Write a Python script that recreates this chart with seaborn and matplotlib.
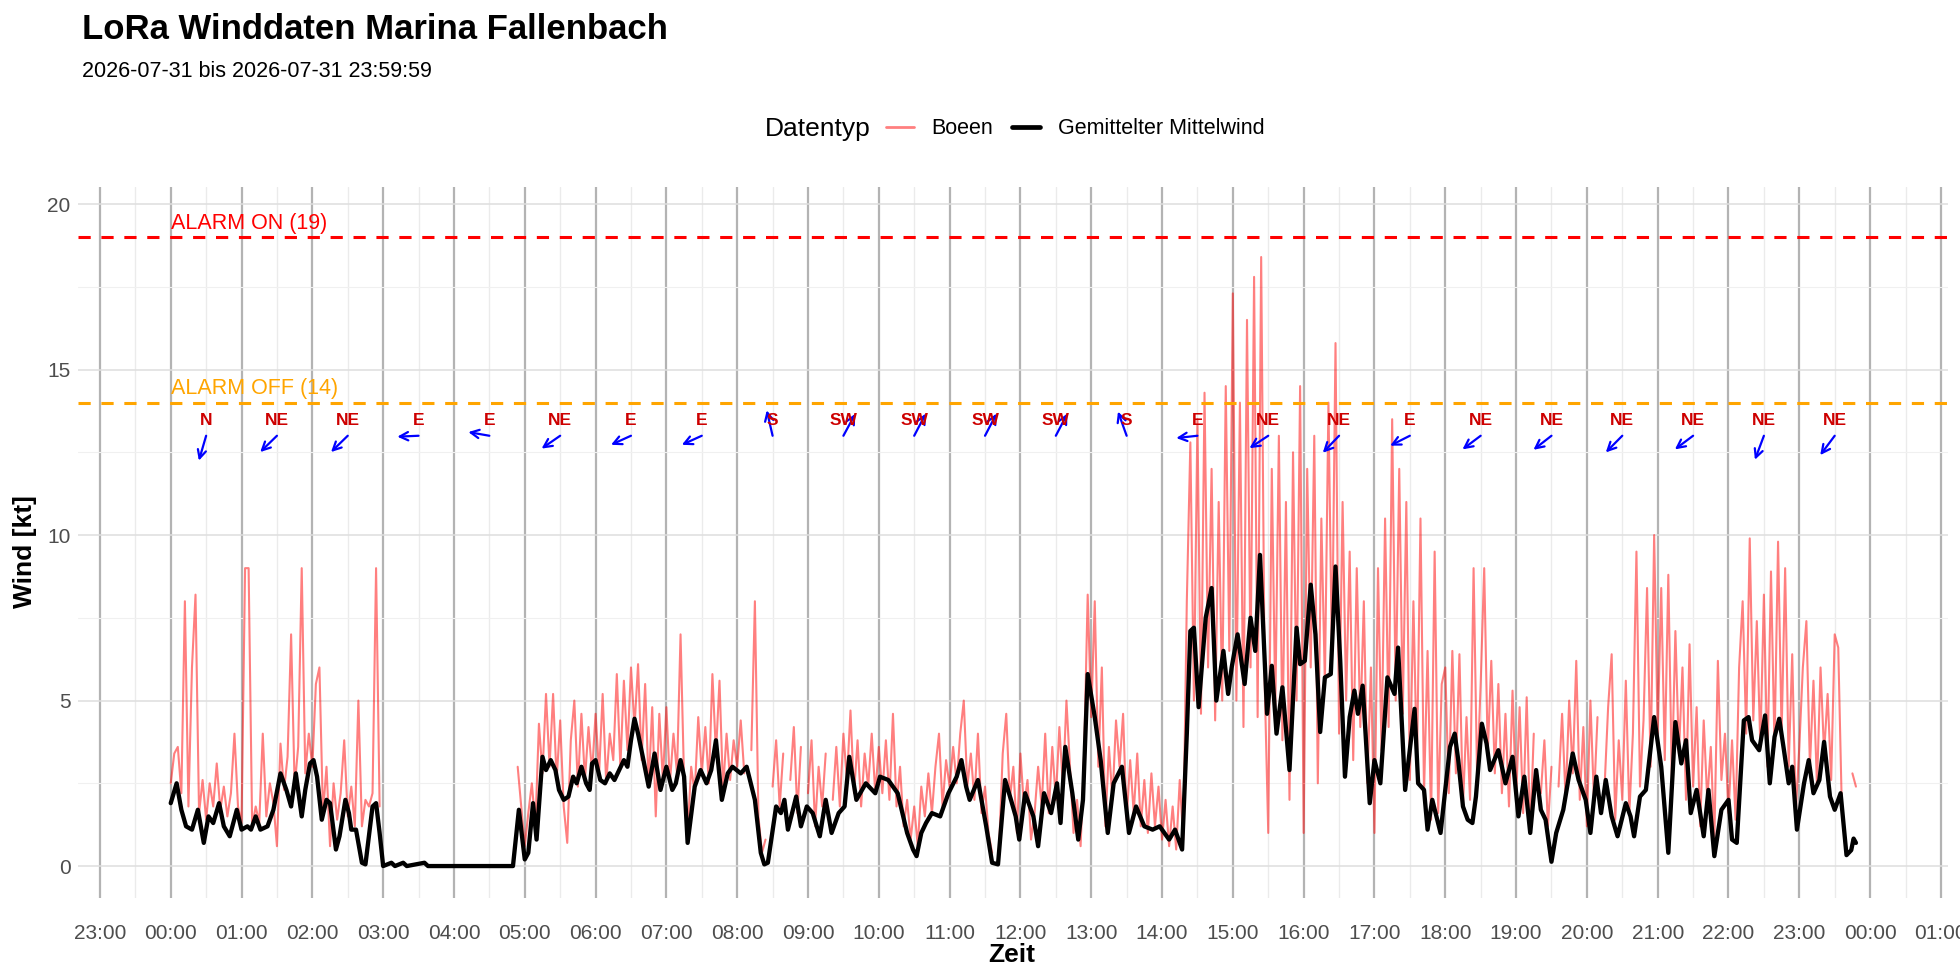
import numpy as np
import pandas as pd
import matplotlib
matplotlib.use("Agg")
import matplotlib.pyplot as plt
import matplotlib.dates as mdates
from matplotlib.lines import Line2D
import seaborn as sns

nan = np.nan
DAY = "2026-07-31"

# Boeen [kt], 3-Minuten-Raster ab 00:00, eine Zeile pro Stunde
gust_kt = [
    2.5, 3.4, 3.6, 2.2, 8.0, 1.8, 6.0, 8.2, 1.6, 2.6, 1.4, 2.5, 1.8, 3.1, 1.7, 2.4, 1.5, 2.2, 4.0, 1.8,
    1.3, 9.0, 9.0, 1.2, 1.8, 1.3, 4.0, 1.5, 2.5, 1.9, 0.6, 3.7, 2.3, 3.3, 7.0, 2.4, 3.6, 9.0, 2.8, 4.0,
    3.0, 5.5, 6.0, 1.6, 3.0, 0.6, 2.5, 1.4, 2.2, 3.8, 1.5, 2.4, 1.2, 5.0, 1.2, 2.0, 1.8, 2.2, 9.0, 1.8,
    nan, nan, nan, nan, nan, nan, nan, nan, nan, nan, nan, nan, nan, nan, nan, nan, nan, nan, nan, nan,
    nan, nan, nan, nan, nan, nan, nan, nan, nan, nan, nan, nan, nan, nan, nan, nan, nan, nan, 3.0, 1.8,
    0.6, 1.6, 2.5, 1.2, 4.3, 2.8, 5.2, 3.0, 5.2, 2.6, 4.4, 1.8, 0.7, 3.8, 5.0, 2.4, 4.6, 2.6, 4.2, 2.8,
    4.6, 2.8, 5.2, 2.5, 4.0, 3.2, 5.8, 3.0, 5.6, 3.5, 6.0, 4.2, 6.1, 3.2, 5.5, 2.4, 4.8, 1.5, 4.6, 2.6,
    4.8, 2.5, 4.0, 2.8, 7.0, 2.6, 1.0, 3.0, 2.2, 4.5, 2.8, 4.2, 2.5, 5.8, 3.4, 5.6, 2.3, 4.0, 2.6, 3.8,
    3.0, 4.4, 2.8, nan, 3.5, 8.0, 1.5, 0.4, 0.8, nan, 2.4, 3.8, 1.8, 3.4, nan, 2.6, 4.2, 1.6, 3.6, nan,
    2.2, 3.8, 1.2, 3.0, 1.8, 3.4, nan, 2.0, 3.6, 1.8, 4.0, 2.6, 4.7, 2.2, 3.8, 1.8, 3.4, 2.4, 4.0, 2.2,
    3.6, 2.2, 3.8, 2.0, 4.6, 1.8, 3.0, 1.2, 2.0, 0.8, 1.8, 0.6, 2.4, 1.5, 2.8, 1.6, 3.0, 4.0, 1.8, 3.2,
    2.4, 3.6, 2.5, 4.0, 5.0, 2.4, 3.4, 2.0, 4.0, 1.6, 2.4, 1.0, 0.4, nan, 0.6, 3.4, 4.6, 2.0, 3.0, 1.0,
    3.4, 1.8, 2.6, 0.8, 1.6, 3.0, 1.8, 4.0, 1.6, 3.6, 2.0, 4.2, 2.4, 5.0, 3.0, 1.0, 2.0, 0.6, 3.4, 8.2,
    4.5, 8.0, 3.0, 6.0, 1.2, 3.6, 2.0, 4.4, 3.0, 4.6, 1.4, 3.2, 1.6, 3.4, 1.2, 2.6, 1.0, 2.8, 1.2, 2.4,
    0.8, 2.0, 0.6, 1.8, 0.5, 2.6, 0.8, 8.0, 12.8, 5.0, 13.5, 4.6, 14.3, 6.0, 12.0, 4.4, 11.0, 5.0, 14.5, 6.5,
    17.3, 5.0, 14.0, 4.2, 16.5, 6.0, 17.8, 4.5, 18.4, 5.5, 1.0, 12.0, 4.8, 13.0, 3.8, 11.0, 2.0, 12.5, 5.0, 14.5,
    1.0, 12.0, 6.0, 13.0, 2.5, 10.5, 5.5, 14.0, 6.2, 15.8, 4.0, 11.0, 5.0, 9.5, 3.2, 9.0, 4.2, 8.0, 2.5, 6.0,
    1.0, 9.0, 3.5, 10.5, 4.2, 13.5, 5.0, 12.0, 4.6, 11.0, 2.6, 8.0, 3.0, 10.5, 2.2, 6.5, 1.4, 9.5, 1.6, 5.5,
    6.0, 2.2, 6.5, 2.8, 6.4, 1.8, 4.5, 2.0, 9.0, 2.6, 5.5, 9.0, 3.4, 6.2, 2.8, 5.5, 2.2, 4.6, 1.8, 5.3,
    2.0, 4.8, 1.6, 5.1, 1.0, 4.0, nan, 2.2, 3.8, 1.2, 3.0, nan, 2.4, 4.6, 2.0, 5.0, 2.8, 6.2, 2.0, 4.2,
    1.2, 5.0, 2.0, 4.5, nan, 2.4, 4.8, 6.4, 1.4, 3.8, 2.0, 5.6, 1.6, 4.0, 9.5, 2.4, 4.4, 8.4, 3.0, 10.0,
    4.0, 8.4, 3.2, 8.8, 2.6, 7.1, 3.4, 6.0, 2.0, 6.7, 2.4, 4.8, 1.2, 4.4, 2.0, 3.6, 0.8, 6.2, 2.6, 4.0,
    1.6, 3.8, 1.4, 6.0, 8.0, 4.0, 9.9, 4.4, 7.4, 3.6, 8.2, 3.0, 8.9, 3.6, 9.8, 4.0, 9.0, 3.0, 6.4, 1.6,
    3.6, 6.0, 7.4, 3.0, 5.6, 2.4, 6.0, 3.4, 5.2, 2.6, 7.0, 6.6, 1.8, nan, nan, 2.8, 2.4, nan, nan, nan,
]

# gemittelter Mittelwind [kt]
mean_time = [
    "00:00", "00:05", "00:09", "00:13", "00:18", "00:23", "00:28", "00:32", "00:36", "00:41", "00:45", "00:50", "00:56",
    "01:00", "01:05", "01:08", "01:12", "01:16", "01:22", "01:27", "01:33", "01:38", "01:42", "01:46", "01:51", "01:54", "01:58",
    "02:01", "02:04", "02:08", "02:12", "02:15", "02:20", "02:23", "02:28", "02:31", "02:33", "02:37", "02:42", "02:45", "02:51", "02:54", "02:57",
    "03:00", "03:07", "03:10", "03:17", "03:20", "03:35", "03:38", "04:50", "04:55",
    "05:00", "05:03", "05:07", "05:10", "05:15", "05:18", "05:22", "05:26", "05:29", "05:33", "05:37", "05:41", "05:44", "05:48", "05:52", "05:55", "05:57",
    "06:00", "06:04", "06:08", "06:12", "06:16", "06:20", "06:24", "06:27", "06:30", "06:33", "06:36", "06:40", "06:45", "06:50", "06:55",
    "07:00", "07:05", "07:08", "07:12", "07:15", "07:18", "07:24", "07:29", "07:34", "07:38", "07:42", "07:47", "07:52", "07:56",
    "08:03", "08:08", "08:15", "08:20", "08:23", "08:26", "08:33", "08:37", "08:40", "08:43", "08:50", "08:54", "08:59",
    "09:04", "09:10", "09:15", "09:20", "09:26", "09:31", "09:35", "09:41", "09:49", "09:57",
    "10:01", "10:08", "10:16", "10:24", "10:29", "10:32", "10:36", "10:40", "10:45", "10:52", "10:59",
    "11:06", "11:10", "11:14", "11:17", "11:24", "11:31", "11:36", "11:41", "11:47", "11:52", "11:56", "11:59",
    "12:04", "12:11", "12:15", "12:20", "12:26", "12:31", "12:34", "12:38", "12:44", "12:49", "12:53", "12:57",
    "13:03", "13:08", "13:14", "13:19", "13:26", "13:32", "13:38", "13:45", "13:52", "13:58",
    "14:06", "14:11", "14:17", "14:21", "14:24", "14:27", "14:31", "14:37", "14:42", "14:46", "14:52", "14:56", "14:59",
    "15:04", "15:10", "15:15", "15:19", "15:23", "15:29", "15:33", "15:37", "15:42", "15:48", "15:54", "15:57",
    "16:01", "16:06", "16:10", "16:14", "16:18", "16:23", "16:27", "16:31", "16:35", "16:39", "16:43", "16:46", "16:50", "16:56",
    "17:00", "17:05", "17:11", "17:17", "17:20", "17:26", "17:34", "17:37", "17:42", "17:45", "17:49", "17:56",
    "18:04", "18:08", "18:11", "18:15", "18:19", "18:23", "18:26", "18:31", "18:35", "18:38", "18:45", "18:51", "18:57",
    "19:02", "19:07", "19:12", "19:17", "19:21", "19:25", "19:30", "19:34", "19:40", "19:48", "19:53", "19:59",
    "20:03", "20:08", "20:12", "20:16", "20:21", "20:26", "20:33", "20:37", "20:40", "20:45", "20:50", "20:57",
    "21:03", "21:09", "21:15", "21:20", "21:24", "21:28", "21:33", "21:39", "21:43", "21:48", "21:54",
    "22:00", "22:03", "22:07", "22:13", "22:17", "22:20", "22:26", "22:31", "22:35", "22:39", "22:43", "22:47", "22:51", "22:54", "22:58",
    "23:04", "23:08", "23:12", "23:17", "23:21", "23:26", "23:30", "23:35", "23:40", "23:44", "23:46", "23:48",
]
mean_kt = [
    1.9, 2.5, 1.7, 1.2, 1.1, 1.7, 0.7, 1.5, 1.3, 1.9, 1.2, 0.9, 1.7,
    1.1, 1.2, 1.1, 1.5, 1.1, 1.2, 1.7, 2.8, 2.3, 1.8, 2.8, 1.5, 2.3, 3.1,
    3.2, 2.7, 1.4, 2.0, 1.9, 0.5, 0.9, 2.0, 1.6, 1.1, 1.1, 0.1, 0.05, 1.8, 1.9, 1.0,
    0.0, 0.1, 0.0, 0.1, 0.0, 0.1, 0.0, 0.0, 1.7,
    0.2, 0.4, 1.9, 0.8, 3.3, 2.9, 3.2, 2.9, 2.3, 2.0, 2.1, 2.7, 2.5, 3.0, 2.5, 2.3, 3.1,
    3.2, 2.6, 2.5, 2.8, 2.6, 2.9, 3.2, 3.0, 3.8, 4.45, 4.0, 3.3, 2.4, 3.4, 2.3,
    3.0, 2.3, 2.5, 3.2, 2.7, 0.7, 2.4, 2.9, 2.5, 2.9, 3.8, 2.0, 2.8, 3.0,
    2.8, 3.0, 2.0, 0.4, 0.05, 0.1, 1.8, 1.6, 2.0, 1.1, 2.1, 1.2, 1.8,
    1.6, 0.9, 2.0, 1.0, 1.6, 1.8, 3.3, 2.0, 2.5, 2.2,
    2.7, 2.6, 2.2, 1.0, 0.5, 0.3, 1.0, 1.3, 1.6, 1.5, 2.2,
    2.7, 3.2, 2.4, 2.0, 2.6, 1.2, 0.1, 0.05, 2.6, 2.0, 1.5, 0.8,
    2.2, 1.5, 0.6, 2.2, 1.6, 2.5, 1.3, 3.6, 2.2, 0.8, 2.0, 5.8,
    4.5, 3.2, 1.0, 2.5, 3.0, 1.0, 1.8, 1.2, 1.1, 1.2,
    0.8, 1.1, 0.5, 4.0, 7.1, 7.2, 4.8, 7.5, 8.4, 5.0, 6.5, 5.2, 6.0,
    7.0, 5.5, 7.5, 6.5, 9.4, 4.6, 6.05, 4.0, 5.4, 2.9, 7.2, 6.1,
    6.2, 8.5, 7.0, 4.05, 5.7, 5.8, 9.05, 6.2, 2.7, 4.5, 5.3, 4.6, 5.45, 1.9,
    3.2, 2.5, 5.7, 5.2, 6.6, 2.3, 4.75, 2.5, 2.3, 1.1, 2.0, 1.0,
    3.6, 4.0, 3.2, 1.8, 1.4, 1.3, 2.1, 4.3, 3.7, 2.9, 3.5, 2.5, 3.3,
    1.5, 2.7, 1.0, 2.9, 1.7, 1.4, 0.13, 1.0, 1.7, 3.4, 2.6, 2.0,
    1.0, 2.7, 1.6, 2.6, 1.5, 0.9, 1.9, 1.5, 0.9, 2.1, 2.3, 4.5,
    3.0, 0.4, 4.35, 3.1, 3.8, 1.6, 2.3, 0.9, 2.3, 0.3, 1.7,
    2.0, 0.8, 0.7, 4.4, 4.5, 3.8, 3.5, 4.55, 2.5, 3.9, 4.45, 3.5, 2.5, 3.0, 1.1,
    2.5, 3.2, 2.2, 2.6, 3.75, 2.1, 1.7, 2.2, 0.33, 0.48, 0.83, 0.7,
]

# Windrichtung je Stunde (Pfeil um hh:30)
dir_time = ["00:30", "01:30", "02:30", "03:30", "04:30", "05:30", "06:30", "07:30",
            "08:30", "09:30", "10:30", "11:30", "12:30", "13:30", "14:30", "15:30",
            "16:30", "17:30", "18:30", "19:30", "20:30", "21:30", "22:30", "23:30"]
dir_label = ["N", "NE", "NE", "E", "E", "NE", "E", "E", "S", "SW", "SW", "SW",
             "SW", "S", "E", "NE", "NE", "E", "NE", "NE", "NE", "NE", "NE", "NE"]
dir_deg = [20, 52, 52, 88, 98, 61, 70, 70, 164, 214, 213, 213,
           213, 156, 85, 62, 50, 68, 59, 58, 51, 59, 25, 43]

alarm_on = 19
alarm_off = 14

sns.set_theme(style="white")
plt.rcParams["font.family"] = ["Liberation Sans", "DejaVu Sans"]
plt.rcParams["text.color"] = "black"

t0 = pd.Timestamp(DAY)
gust = pd.DataFrame({"zeit": pd.date_range(t0, periods=len(gust_kt), freq="3min"),
                     "kt": gust_kt})
gust["seg"] = gust["kt"].isna().cumsum()
gust = gust.dropna()

mean = pd.DataFrame({"zeit": pd.to_datetime([DAY + " " + t for t in mean_time]),
                     "kt": mean_kt})

W, H = 1960, 980
fig = plt.figure(figsize=(W / 100, H / 100), dpi=100)
ax = fig.add_axes([77.5 / W, 82.5 / H, (1948 - 77.5) / W, 710 / H])

sns.lineplot(data=gust, x="zeit", y="kt", units="seg", estimator=None, color="red",
             alpha=0.5, lw=1.5, ax=ax, legend=False)
sns.lineplot(data=mean, x="zeit", y="kt", estimator=None, color="black", lw=3.1,
             ax=ax, legend=False, solid_joinstyle="round")

ax.axhline(alarm_on, color="red", lw=2.2, ls=(0, (4, 3.5)))
ax.axhline(alarm_off, color="#FFA500", lw=2.2, ls=(0, (4, 3.5)))
ax.text(t0, alarm_on + 0.25, f"ALARM ON ({alarm_on})", color="red", fontsize=15.5,
        ha="left", va="baseline")
ax.text(t0, alarm_off + 0.25, f"ALARM OFF ({alarm_off})", color="#FFA500", fontsize=15.5,
        ha="left", va="baseline")

# Richtungspfeile
for t, lab, d in zip(dir_time, dir_label, dir_deg):
    x = mdates.date2num(pd.Timestamp(DAY + " " + t))
    r = np.deg2rad(d)
    xe = x - np.sin(r) * 0.3 / 24
    ye = 13.0 - np.cos(r) * 0.8
    ax.annotate("", xy=(xe, ye), xytext=(x, 13.0),
                arrowprops=dict(arrowstyle="->,head_length=0.5,head_width=0.25",
                                color="blue", lw=1.6, shrinkA=0, shrinkB=0,
                                mutation_scale=12))
    ax.text(x, 13.45, lab, color="#CD0000", fontsize=12.5, fontweight="bold",
            ha="center", va="center")

ax.set_xlim(pd.Timestamp("2026-07-30 22:41"), pd.Timestamp("2026-08-01 01:06"))
ax.set_ylim(-0.95, 20.5)
ax.xaxis.set_major_locator(mdates.HourLocator())
ax.xaxis.set_minor_locator(mdates.MinuteLocator(byminute=[30]))
ax.xaxis.set_major_formatter(mdates.DateFormatter("%H:%M"))
ax.set_yticks([0, 5, 10, 15, 20])
ax.set_yticks([2.5, 7.5, 12.5, 17.5], minor=True)

ax.grid(which="major", axis="x", color="#B3B3B3", lw=1.6)
ax.grid(which="minor", axis="x", color="#EBEBEB", lw=1.0)
ax.grid(which="major", axis="y", color="#DEDEDE", lw=1.1)
ax.grid(which="minor", axis="y", color="#F0F0F0", lw=0.8)
ax.set_axisbelow(True)
for s in ax.spines.values():
    s.set_visible(False)
ax.tick_params(which="both", length=0, labelsize=15, colors="#4D4D4D")
ax.tick_params(axis="x", pad=19)
ax.tick_params(axis="y", pad=5)
ax.set_xlabel("")
ax.set_ylabel("")

fig.text(25 / W, 1 - 552 / H, "Wind [kt]", rotation=90, ha="center", va="center",
         fontsize=19, fontweight="bold", color="black")
fig.text(1012 / W, 1 - 955 / H, "Zeit", ha="center", va="center",
         fontsize=19, fontweight="bold", color="black")

fig.text(82 / W, 1 - 39 / H, "LoRa Winddaten Marina Fallenbach", fontsize=25,
         fontweight="bold", ha="left", va="baseline", color="black")
fig.text(82 / W, 1 - 77 / H, f"{DAY} bis {DAY} 23:59:59", fontsize=15.5,
         ha="left", va="baseline", color="black")

fig.text(871 / W, 1 - 129 / H, "Datentyp", fontsize=19, ha="right", va="center",
         color="black")
handles = [Line2D([], [], color="red", alpha=0.5, lw=2.0),
           Line2D([], [], color="black", lw=3.4)]
leg = fig.legend(handles, ["Boeen", "Gemittelter Mittelwind"], loc="center left",
                 bbox_to_anchor=(886 / W, 1 - 129 / H), ncol=2, frameon=False,
                 fontsize=15.5, handlelength=1.3, handletextpad=0.8, columnspacing=0.9,
                 borderpad=0, borderaxespad=0)
for txt in leg.get_texts():
    txt.set_color("black")

fig.savefig("out.png", dpi=100, facecolor="white")
